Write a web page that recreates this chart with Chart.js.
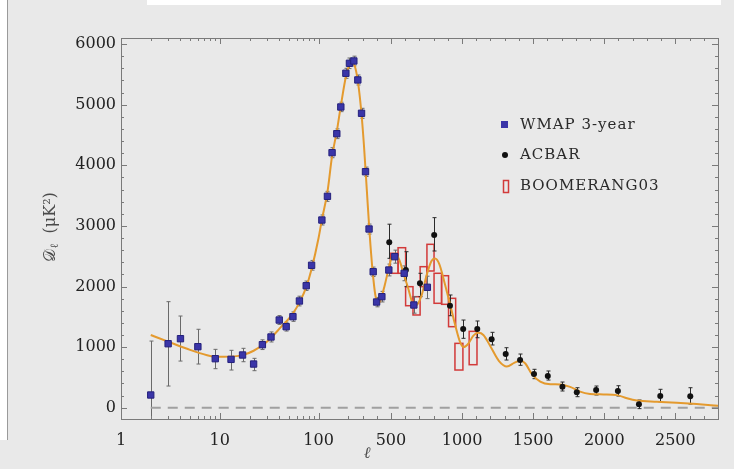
<!DOCTYPE html>
<html>
<head>
<meta charset="utf-8">
<script src="https://cdn.jsdelivr.net/npm/chart.js@4.4.1/dist/chart.umd.min.js"></script>
<style>
  html, body { margin: 0; padding: 0; background: #e9e9e9; }
  canvas { display: block; }
</style>
</head>
<body>
<canvas id="espectro" width="734" height="469"></canvas>
<script>
// WMAP 3-year (ell, D_ell, error bar top, error bar bottom)
const wmap_ell = [2, 3, 4, 6, 9, 13, 17, 22, 27, 33, 40, 47, 55, 64, 75, 85, 108, 123, 137, 153, 168, 189, 208, 239, 267, 293, 321, 346, 375, 399, 436, 485, 527, 593, 661, 756];
const wmap_d = [210, 1056, 1139, 1007, 809, 798, 870, 721, 1040, 1167, 1447, 1337, 1502, 1761, 2013, 2350, 3097, 3488, 4208, 4521, 4962, 5518, 5683, 5721, 5408, 4858, 3894, 2949, 2244, 1744, 1832, 2272, 2492, 2218, 1695, 1987];
const wmap_hi = [1100, 1750, 1513, 1294, 963, 947, 980, 815, 1120, 1250, 1520, 1410, 1580, 1840, 2090, 2430, 3180, 3570, 4290, 4600, 5040, 5600, 5770, 5800, 5490, 4940, 3970, 3030, 2320, 1820, 1920, 2370, 2600, 2340, 1830, 2170];
const wmap_lo = [-200, 358, 770, 721, 644, 622, 759, 611, 960, 1085, 1375, 1265, 1425, 1680, 1935, 2270, 3015, 3405, 4125, 4440, 4885, 5435, 5595, 5640, 5325, 4775, 3815, 2865, 2165, 1665, 1745, 2175, 2385, 2095, 1560, 1800];

// ACBAR
const acbar_ell = [488, 605, 704, 804, 915, 1008, 1107, 1208, 1307, 1408, 1506, 1603, 1706, 1807, 1943, 2096, 2244, 2394, 2605];
const acbar_d = [2729, 2272, 2053, 2850, 1683, 1299, 1299, 1129, 886, 787, 556, 523, 347, 254, 292, 276, 56, 193, 188];
const acbar_hi = [3028, 2574, 2218, 3136, 1860, 1447, 1431, 1244, 990, 886, 634, 606, 424, 330, 358, 363, 127, 304, 330];
const acbar_lo = [2465, 1997, 1832, 2586, 1518, 1145, 1155, 1035, 787, 700, 479, 457, 276, 182, 210, 193, -15, 99, 61];

// BOOMERANG03 band powers (ell bin edges, D_ell range)
const b03_ell_min = [495, 550, 603, 655, 705, 753, 803, 856, 905, 950, 1050];
const b03_ell_max = [550, 603, 655, 705, 753, 803, 856, 905, 955, 1006, 1105];
const b03_top = [2548, 2640, 1997, 1832, 2327, 2696, 2218, 2178, 1805, 1062, 1260];
const b03_bot = [2218, 2218, 1683, 1530, 1997, 2256, 1723, 1706, 1337, 622, 710];

// best fit model
const modelo_ell = [2, 3, 5, 8, 11, 17, 22, 30, 42, 54, 66, 75, 85, 100, 108, 123, 137, 153, 168, 189, 205, 228, 250, 270, 290, 310, 330, 350, 370, 390, 410, 425, 457, 500, 530, 560, 590, 620, 650, 675, 715, 750, 785, 810, 840, 875, 910, 950, 985, 1010, 1045, 1080, 1115, 1150, 1200, 1260, 1315, 1370, 1410, 1445, 1490, 1550, 1620, 1690, 1760, 1830, 1900, 1995, 2090, 2160, 2230, 2370, 2510, 2650, 2800];
const modelo_d = [1200, 1090, 955, 855, 840, 868, 940, 1090, 1337, 1535, 1780, 1990, 2290, 2800, 3100, 3560, 4150, 4560, 4980, 5460, 5640, 5710, 5600, 5340, 4920, 4330, 3600, 2870, 2280, 1860, 1720, 1760, 2030, 2440, 2540, 2430, 2200, 1980, 1740, 1690, 1850, 2180, 2420, 2460, 2370, 2080, 1760, 1380, 1090, 1000, 1060, 1190, 1235, 1200, 1010, 770, 680, 745, 775, 730, 560, 430, 388, 385, 345, 265, 228, 220, 208, 155, 118, 98, 82, 60, 33];

const x_ticks = [1, 10, 100, 500, 1000, 1500, 2000, 2500];
const y_ticks = [0, 1000, 2000, 3000, 4000, 5000, 6000];

// ell axis: logarithmic up to 200, linear above
const decada_px = 98.65;
const linear_px = 0.142;
const ell_corte = 200;

function ell_para_u(l) {
    if (l <= ell_corte) return Math.log10(l) * decada_px;
    return Math.log10(ell_corte) * decada_px + (l - ell_corte) * linear_px;
}
function u_para_ell(u) {
    const uc = Math.log10(ell_corte) * decada_px;
    if (u <= uc) return Math.pow(10, u / decada_px);
    return ell_corte + (u - uc) / linear_px;
}

class EscalaHibrida extends Chart.LinearScale {
    buildTicks() {
        return x_ticks.map(v => ({ value: v }));
    }
    getPixelForValue(v) {
        if (v === null || v === undefined || isNaN(v)) return NaN;
        const a = ell_para_u(this.min), b = ell_para_u(this.max);
        return this.getPixelForDecimal((ell_para_u(v) - a) / (b - a));
    }
    getValueForPixel(p) {
        const a = ell_para_u(this.min), b = ell_para_u(this.max);
        return u_para_ell(a + this.getDecimalForPixel(p) * (b - a));
    }
}
EscalaHibrida.id = 'hibrida';
EscalaHibrida.defaults = Chart.LinearScale.defaults;
Chart.register(EscalaHibrida);

const pontos = (xs, ys) => xs.map((x, i) => ({ x: x, y: ys[i] }));

const fonte_serif = '"DejaVu Serif", "Liberation Serif", serif';

const fundo = {
    id: 'fundo',
    beforeDraw(chart) {
        const ctx = chart.ctx;
        ctx.save();
        ctx.fillStyle = '#e9e9e9';
        ctx.fillRect(0, 0, chart.width, chart.height);
        ctx.fillStyle = '#ffffff';
        ctx.fillRect(147, 0, 574, 5);
        ctx.fillRect(0, 0, 7, 440);
        ctx.fillStyle = '#9a9a9a';
        ctx.fillRect(7, 0, 1, 440);
        ctx.restore();
    }
};

const barras = {
    id: 'barras',
    beforeDatasetsDraw(chart) {
        const ctx = chart.ctx;
        const x = chart.scales.x, y = chart.scales.y;
        const area = chart.chartArea;
        ctx.save();
        ctx.beginPath();
        ctx.rect(area.left, area.top, area.right - area.left, area.bottom - area.top);
        ctx.clip();

        // BOOMERANG03 boxes
        ctx.strokeStyle = '#d23a3a';
        ctx.lineWidth = 1.5;
        b03_ell_min.forEach((l0, i) => {
            const x0 = x.getPixelForValue(l0), x1 = x.getPixelForValue(b03_ell_max[i]);
            const y0 = y.getPixelForValue(b03_top[i]), y1 = y.getPixelForValue(b03_bot[i]);
            ctx.strokeRect(x0, y0, x1 - x0, y1 - y0);
        });

        function erro(ells, his, los, cor) {
            ctx.strokeStyle = cor;
            ctx.lineWidth = 1;
            ells.forEach((l, i) => {
                const px = Math.round(x.getPixelForValue(l)) + 0.5;
                const yh = y.getPixelForValue(his[i]), yl = y.getPixelForValue(los[i]);
                ctx.beginPath();
                ctx.moveTo(px, yh); ctx.lineTo(px, yl);
                ctx.moveTo(px - 2, yh); ctx.lineTo(px + 2, yh);
                ctx.moveTo(px - 2, yl); ctx.lineTo(px + 2, yl);
                ctx.stroke();
            });
        }
        erro(wmap_ell, wmap_hi, wmap_lo, '#6a6a6a');
        erro(acbar_ell, acbar_hi, acbar_lo, '#2a2a2a');
        ctx.restore();
    }
};

const moldura = {
    id: 'moldura',
    afterDraw(chart) {
        const ctx = chart.ctx;
        const x = chart.scales.x, y = chart.scales.y;
        const a = chart.chartArea;
        ctx.save();
        ctx.strokeStyle = '#7a7a7a';
        ctx.lineWidth = 1;
        ctx.strokeRect(Math.round(a.left) + 0.5, Math.round(a.top) + 0.5, Math.round(a.right - a.left), Math.round(a.bottom - a.top));

        const traco = [];
        for (let d = 1; d <= 10; d *= 10) {
            for (let k = 2; k <= 9; k++) traco.push([k * d, 3]);
        }
        traco.push([10, 6], [100, 6]);
        for (let l = 200; l < 2800; l += 100) traco.push([l, l % 500 === 0 ? 6 : 3]);
        ctx.beginPath();
        traco.forEach(([l, len]) => {
            const px = Math.round(x.getPixelForValue(l)) + 0.5;
            ctx.moveTo(px, a.bottom); ctx.lineTo(px, a.bottom - len);
            ctx.moveTo(px, a.top); ctx.lineTo(px, a.top + len);
        });
        for (let v = 0; v <= 6000; v += 200) {
            const len = v % 1000 === 0 ? 6 : 3;
            const py = Math.round(y.getPixelForValue(v)) + 0.5;
            ctx.moveTo(a.left, py); ctx.lineTo(a.left + len, py);
            ctx.moveTo(a.right, py); ctx.lineTo(a.right - len, py);
        }
        ctx.stroke();

        // axis titles
        ctx.fillStyle = '#4a4a4a';
        ctx.font = 'italic 16px ' + fonte_serif;
        ctx.textAlign = 'center';
        ctx.textBaseline = 'middle';
        ctx.fillText('ℓ', 367, 454);

        ctx.translate(50, 227);
        ctx.rotate(-Math.PI / 2);
        ctx.textAlign = 'left';
        ctx.textBaseline = 'alphabetic';
        const f1 = '16px ' + fonte_serif, f2 = '11px ' + fonte_serif;
        ctx.font = f1; const w1 = ctx.measureText('𝒟').width;
        ctx.font = f2; const w2 = ctx.measureText('ℓ').width;
        ctx.font = f1; const w3 = ctx.measureText('  (μK²)').width;
        let px = -(w1 + w2 + w3) / 2;
        ctx.font = f1; ctx.fillText('𝒟', px, 5); px += w1;
        ctx.font = f2; ctx.fillText('ℓ', px, 8); px += w2;
        ctx.font = f1; ctx.fillText('  (μK²)', px, 5);
        ctx.restore();

        // legend
        const ds = chart.data.datasets;
        ctx.save();
        ctx.font = '15px ' + fonte_serif;
        ctx.fillStyle = '#2a2a2a';
        ctx.textBaseline = 'middle';
        ctx.letterSpacing = '1px';
        ctx.fillText(ds[0].label, 520, 125);
        ctx.fillText(ds[1].label, 520, 155);
        ctx.fillText(ds[2].label, 520, 186);
        ctx.fillStyle = '#3a35a8';
        ctx.fillRect(501, 121, 7, 7);
        ctx.fillStyle = '#111111';
        ctx.beginPath();
        ctx.arc(505, 155, 3, 0, Math.PI * 2);
        ctx.fill();
        ctx.strokeStyle = '#d23a3a';
        ctx.lineWidth = 1.5;
        ctx.strokeRect(503.5, 180.5, 5, 12);
        ctx.restore();
    }
};

const espectro = document.getElementById('espectro');

new Chart(espectro, {
    type: 'scatter',
    data: {
        datasets: [{
            label: 'WMAP 3-year',
            data: pontos(wmap_ell, wmap_d),
            pointStyle: 'rect',
            pointRadius: 4.5,
            backgroundColor: '#3a35a8',
            borderColor: '#25217c',
            borderWidth: 1,
            order: 0
        }, {
            label: 'ACBAR',
            data: pontos(acbar_ell, acbar_d),
            pointStyle: 'circle',
            pointRadius: 3,
            backgroundColor: '#111111',
            borderColor: '#111111',
            borderWidth: 0,
            order: 1
        }, {
            label: 'BOOMERANG03',
            data: pontos(b03_ell_min.map((l, i) => (l + b03_ell_max[i]) / 2), b03_top.map((t, i) => (t + b03_bot[i]) / 2)),
            pointRadius: 0,
            order: 2
        }, {
            label: 'modelo',
            data: pontos(modelo_ell, modelo_d),
            showLine: true,
            borderColor: '#e49a2e',
            borderWidth: 2,
            pointRadius: 0,
            cubicInterpolationMode: 'monotone',
            order: 3
        }, {
            label: 'zero',
            data: [{ x: 2, y: 0 }, { x: 2800, y: 0 }],
            showLine: true,
            borderColor: '#a0a0a0',
            borderWidth: 2,
            borderDash: [10, 7],
            pointRadius: 0,
            order: 4
        }]
    },
    options: {
        responsive: false,
        animation: false,
        devicePixelRatio: 1,
        layout: {
            padding: { left: 0, top: 38, right: 16, bottom: 0 }
        },
        plugins: {
            legend: { display: false },
            tooltip: { enabled: false }
        },
        scales: {
            x: {
                type: 'hibrida',
                min: 1,
                max: 2800,
                grid: { display: false, drawTicks: false },
                border: { display: false },
                ticks: {
                    autoSkip: false,
                    maxRotation: 0,
                    padding: 12,
                    color: '#222222',
                    font: { family: fonte_serif, size: 16 },
                    callback: v => String(v)
                },
                afterFit: s => { s.height = 50; }
            },
            y: {
                min: -186,
                max: 6100,
                grid: { display: false, drawTicks: false },
                border: { display: false },
                afterBuildTicks: s => { s.ticks = y_ticks.map(v => ({ value: v })); },
                ticks: {
                    padding: 5,
                    color: '#222222',
                    font: { family: fonte_serif, size: 16 },
                    callback: v => String(v)
                },
                afterFit: s => { s.width = 121; }
            }
        }
    },
    plugins: [fundo, barras, moldura]
});
</script>
</body>
</html>
